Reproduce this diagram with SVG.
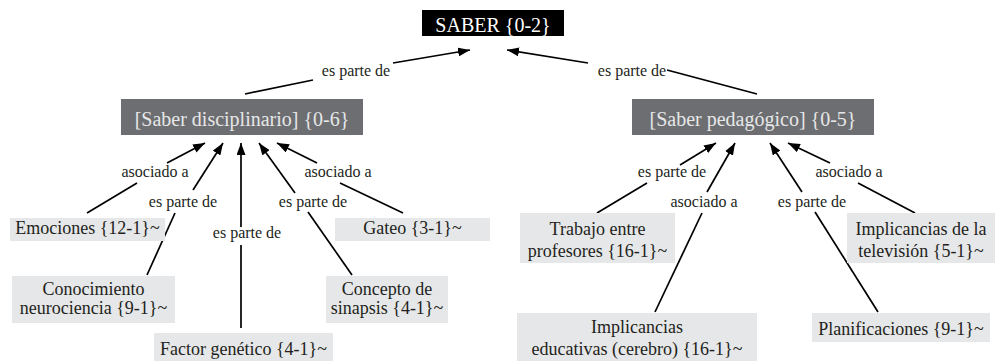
<svg xmlns="http://www.w3.org/2000/svg" width="999" height="361" viewBox="0 0 999 361">
<style>
text{font-family:"Liberation Serif","Times New Roman",serif;text-anchor:middle;}
.root rect{fill:#000;}
.root text{fill:#fff;font-size:20px;}
.mid rect{fill:#6d6e71;}
.mid text{fill:#e6e7e8;font-size:20px;}
.leaf rect{fill:#e6e7e8;}
.leaf text{fill:#231f20;font-size:18px;}
.lbl{fill:#231f20;font-size:16px;}
.ln{stroke:#000;stroke-width:1.7;fill:none;}
.ar{marker-end:url(#arr);}
</style>
<defs>
<marker id="arr" markerUnits="userSpaceOnUse" markerWidth="13" markerHeight="9" refX="12" refY="4.5" orient="auto">
<path d="M0,0 L12,4.5 L0,9 Z" fill="#000"/>
</marker>
</defs>
<rect width="999" height="361" fill="#fff"/>
<g id="connectors">
<path class="ln" d="M245,94 L313,80"/>
<path class="ln ar" d="M393,63 L470,50"/>
<text class="lbl" x="356" y="76">es parte de</text>
<path class="ln" d="M757,94 L667,70"/>
<path class="ln ar" d="M588,63 L507,50"/>
<text class="lbl" x="632" y="76">es parte de</text>

<path class="ln" d="M87,213 L137,183"/>
<path class="ln ar" d="M167,163 L205,143"/>
<text class="lbl" x="155" y="177">asociado a</text>
<path class="ln" d="M147,275 L175,213"/>
<path class="ln ar" d="M193,190 L223,143"/>
<text class="lbl" x="183" y="207">es parte de</text>
<path class="ln" d="M241,328 L241,245"/>
<path class="ln ar" d="M241,227 L241,143"/>
<text class="lbl" x="247" y="238">es parte de</text>
<path class="ln" d="M352,275 L308,212"/>
<path class="ln ar" d="M295,193 L259,143"/>
<text class="lbl" x="313" y="207">es parte de</text>
<path class="ln" d="M403,213 L340,183"/>
<path class="ln ar" d="M317,163 L277,143"/>
<text class="lbl" x="338" y="177">asociado a</text>

<path class="ln" d="M597,213 L647,183"/>
<path class="ln ar" d="M680,165 L716,143"/>
<text class="lbl" x="672" y="177">es parte de</text>
<path class="ln" d="M655,312 L702,213"/>
<path class="ln ar" d="M707,192 L735,143"/>
<text class="lbl" x="704" y="207">asociado a</text>
<path class="ln" d="M878,312 L815,212"/>
<path class="ln ar" d="M802,192 L770,143"/>
<text class="lbl" x="812" y="207">es parte de</text>
<path class="ln" d="M915,213 L858,183"/>
<path class="ln ar" d="M830,163 L788,143"/>
<text class="lbl" x="849" y="177">asociado a</text>
</g>
<g id="saber" class="root"><rect x="422" y="10" width="142" height="26"/><text x="493" y="32">SABER {0-2}</text></g>
<g id="disciplinario" class="mid"><rect x="121" y="99" width="242" height="36"/><text x="242" y="126">[Saber disciplinario] {0-6}</text></g>
<g id="pedagogico" class="mid"><rect x="632" y="99" width="242" height="36"/><text x="753" y="126">[Saber pedagógico] {0-5}</text></g>
<g id="emociones" class="leaf"><rect x="10" y="218" width="155" height="23"/><text x="87.5" y="234">Emociones {12-1}~</text></g>
<g id="gateo" class="leaf"><rect x="335" y="218" width="155" height="23"/><text x="412.5" y="234">Gateo {3-1}~</text></g>
<g id="conocimiento" class="leaf"><rect x="12" y="276" width="163" height="47"/><text x="93.5" y="295">Conocimiento</text><text x="93.5" y="314">neurociencia {9-1}~</text></g>
<g id="concepto" class="leaf"><rect x="326" y="276" width="122" height="47"/><text x="387" y="295">Concepto de</text><text x="387" y="314">sinapsis {4-1}~</text></g>
<g id="factor" class="leaf"><rect x="154" y="333" width="179" height="28"/><text x="243.5" y="355">Factor genético {4-1}~</text></g>
<g id="trabajo" class="leaf"><rect x="520" y="213" width="155" height="50"/><text x="597.5" y="235">Trabajo entre</text><text x="597.5" y="257">profesores {16-1}~</text></g>
<g id="television" class="leaf"><rect x="847" y="213" width="148" height="50"/><text x="921" y="235">Implicancias de la</text><text x="921" y="257">televisión {5-1}~</text></g>
<g id="educativas" class="leaf"><rect x="517" y="313" width="240" height="48"/><text x="637" y="333">Implicancias</text><text x="637" y="355">educativas (cerebro) {16-1}~</text></g>
<g id="planificaciones" class="leaf"><rect x="812" y="313" width="178" height="29"/><text x="901" y="335">Planificaciones {9-1}~</text></g>
</svg>
